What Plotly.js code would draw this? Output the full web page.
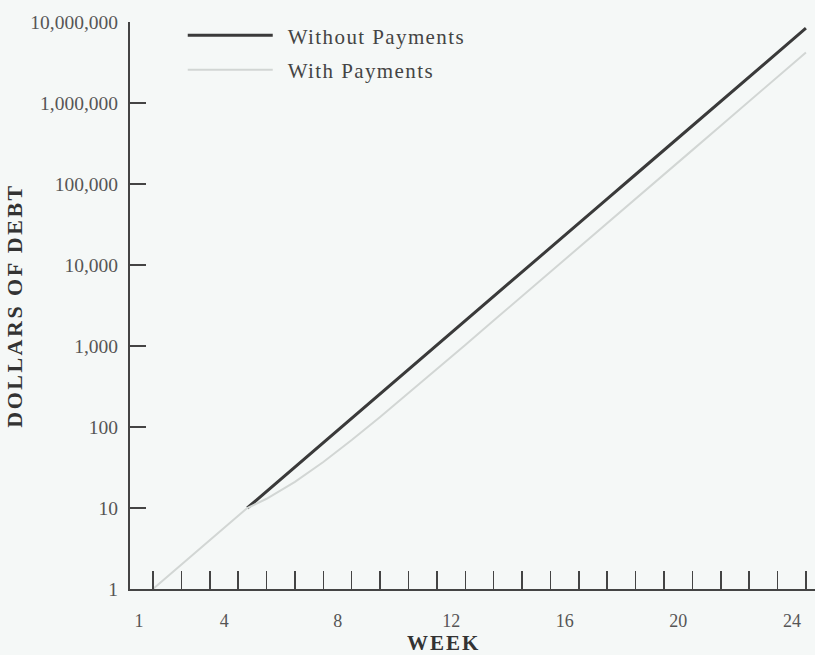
<!DOCTYPE html>
<html>
<head>
<meta charset="utf-8">
<script src="https://cdn.plot.ly/plotly-3.0.1.min.js"></script>
<style>
html,body{margin:0;padding:0;background:#f5f8f7;}
.ytitle{letter-spacing:2.5px;}
.legendtext{letter-spacing:1.4px;}
.annotation-text{letter-spacing:2px;}
</style>
</head>
<body>
<div id="chart" style="width:815px;height:655px;"></div>
<script>
// Week numbers and debt values
const withoutWeeks = [4.32, 5, 6, 7, 8, 9, 10, 11, 12, 13, 14, 15, 16, 17, 18, 19, 20, 21, 22, 23, 24];
const withoutDebt  = [10, 16, 32, 64, 128, 256, 512, 1020, 2050, 4100, 8200, 16400, 32800, 65500, 131000, 262000, 524000, 1050000, 2100000, 4190000, 8390000];

const withWeeks = [1, 2, 3, 4, 4.32, 5, 6, 7, 8, 9, 10, 11, 12, 13, 14, 15, 16, 17, 18, 19, 20, 21, 22, 23, 24];
const withDebt  = [1, 2, 4, 8, 10, 13, 21, 37, 69, 133, 261, 515, 1030, 2060, 4100, 8200, 16400, 32800, 65500, 131000, 262000, 524000, 1050000, 2100000, 4200000];

const weekTicks = [1,2,3,4,5,6,7,8,9,10,11,12,13,14,15,16,17,18,19,20,21,22,23,24];
const weekLabels = ['1','','','4','','','','8','','','','12','','','','16','','','','20','','','','24'];

const debtTicks = [1, 10, 100, 1000, 10000, 100000, 1000000, 10000000];
const debtLabels = ['1', '10', '100', '1,000', '10,000', '100,000', '1,000,000', '10,000,000'];

const seriesNames = ['Without Payments', 'With Payments'];

const serif = '"Liberation Serif", "Times New Roman", serif';

const traces = [
  {x: withoutWeeks, y: withoutDebt, name: seriesNames[0], mode: 'lines',
   line: {color: '#3a3a3a', width: 3}, legendgroup: 'a'},
  {x: withWeeks, y: withDebt, name: seriesNames[1], mode: 'lines',
   line: {color: '#d2d6d4', width: 2}, legendgroup: 'b'}
];

const layout = {
  width: 815, height: 655,
  margin: {l: 130, r: 0, t: 22, b: 66},
  paper_bgcolor: '#f5f8f7',
  plot_bgcolor: '#f5f8f7',
  font: {family: serif, color: '#4a4a4a', size: 18},
  showlegend: true,
  legend: {
    x: 0.077, y: 1.012, xanchor: 'left', yanchor: 'top',
    bgcolor: 'rgba(0,0,0,0)', borderwidth: 0,
    font: {family: serif, size: 21, color: '#444'},
    itemwidth: 95, traceorder: 'grouped', tracegroupgap: 4
  },
  xaxis: {
    range: [0.19, 24.32],
    showgrid: false, zeroline: false,
    showline: true, linecolor: '#444', linewidth: 2,
    ticks: 'inside', ticklen: 18, tickwidth: 1.5, tickcolor: '#444',
    tickmode: 'array', tickvals: weekTicks, ticktext: weekLabels,
    ticklabelshift: -14, ticklabelstandoff: 14,
    tickfont: {family: serif, size: 18, color: '#555'}
  },
  yaxis: {
    type: 'log', range: [0, 7],
    showgrid: false, zeroline: false,
    showline: true, linecolor: '#444', linewidth: 2,
    ticks: 'inside', ticklen: 16, tickwidth: 1.5, tickcolor: '#444',
    tickmode: 'array', tickvals: debtTicks, ticktext: debtLabels,
    ticklabelstandoff: 6,
    tickfont: {family: serif, size: 19.5, color: '#555'},
    title: {text: 'DOLLARS OF DEBT', standoff: 2,
            font: {family: serif, size: 22, color: '#333', weight: 'bold'}}
  },
  annotations: [{
    text: 'WEEK', xref: 'paper', yref: 'paper',
    x: 0.458, y: -0.095, xanchor: 'center', yanchor: 'middle',
    showarrow: false,
    font: {family: serif, size: 21, color: '#333', weight: 'bold'}
  }]
};

Plotly.newPlot('chart', traces, layout, {displayModeBar: false, staticPlot: true}).then(function () {
  document.querySelectorAll('.legend .legendlines path').forEach(function (p) {
    p.setAttribute('d', 'M5,0h85');
  });
});
</script>
</body>
</html>
